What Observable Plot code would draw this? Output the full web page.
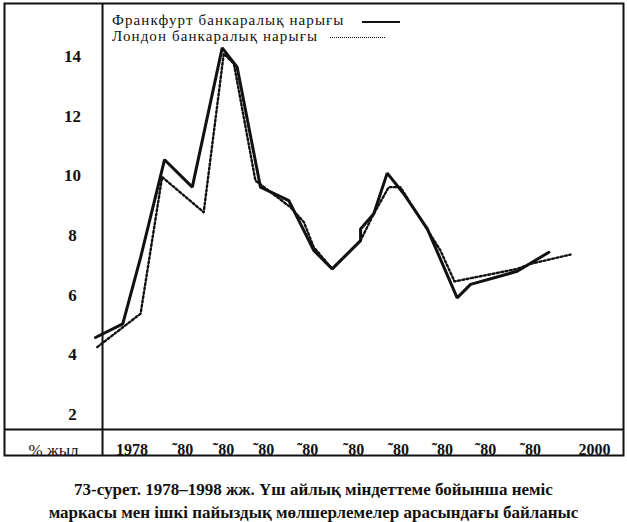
<!DOCTYPE html>
<html><head><meta charset="utf-8">
<script src="https://cdn.jsdelivr.net/npm/d3@7"></script>
<script src="https://cdn.jsdelivr.net/npm/@observablehq/plot@0.6"></script>
<style>
body{margin:0;background:#fff;width:627px;height:522px;overflow:hidden;position:relative;font-family:"Liberation Serif","DejaVu Serif",serif;color:#111;}
#chart{position:absolute;left:0;top:0;}
.lg{position:absolute;font-size:15px;line-height:15px;letter-spacing:1.1px;white-space:nowrap;}
.sw{position:absolute;height:0;}
#caption{position:absolute;left:0;top:478px;width:627px;text-align:center;font-weight:bold;font-size:17px;line-height:23px;}
</style></head><body>
<div id="chart"></div>
<div class="lg" id="lg1" style="left:112px;top:13px;"></div>
<div class="sw" style="left:362px;top:21px;width:38px;border-top:2px solid #111;"></div>
<div class="lg" id="lg2" style="left:112px;top:29px;"></div>
<div class="sw" style="left:330px;top:37px;width:55px;border-top:1.5px dotted #111;"></div>
<div id="caption"></div>
<script>
// ---- data ----
const frankfurtYears = [1976.34, 1977.58, 1978.39, 1979.48, 1980.74, 1982.10, 1982.78, 1983.84, 1985.13, 1986.26, 1987.10, 1988.39, 1988.39, 1988.99, 1989.60, 1990.35, 1991.42, 1992.78, 1993.39, 1995.51, 1996.95];
const frankfurtRates = [4.58, 5.04, 7.26, 10.54, 9.62, 14.29, 13.64, 9.62, 9.17, 7.50, 6.88, 7.83, 8.22, 8.73, 10.09, 9.40, 8.23, 5.91, 6.36, 6.80, 7.44];
const londonYears = [1976.42, 1978.39, 1979.37, 1981.26, 1982.17, 1982.63, 1983.61, 1985.20, 1985.81, 1986.26, 1987.10, 1988.39, 1988.99, 1989.67, 1990.20, 1991.42, 1992.02, 1992.66, 1995.51, 1996.11, 1997.93];
const londonRates = [4.26, 5.38, 9.96, 8.78, 14.09, 13.76, 9.84, 8.95, 8.45, 7.61, 6.88, 7.83, 8.73, 9.62, 9.62, 8.20, 7.50, 6.46, 6.88, 7.05, 7.36];
const yTicks = [2, 4, 6, 8, 10, 12, 14];
const xTickYears = [1978, 1980.3, 1982.16, 1983.98, 1985.98, 1988.07, 1990.11, 1992.11, 1994.07, 1996.11, 1999.02];
const xTickLabels = ["1978", "˜80", "˜80", "˜80", "˜80", "˜80", "˜80", "˜80", "˜80", "˜80", "2000"];
const unitLabel = "% жыл";
const seriesNames = ["Франкфурт банкаралық нарығы", "Лондон банкаралық нарығы"];
const captionLines = ["73-сурет. 1978–1998 жж. Үш айлық міндеттеме бойынша неміс", "маркасы мен ішкі пайыздық мөлшерлемелер арасындағы байланыс"];

// ---- layout ----
const dividerYear = 1976.66;
const dividerRate = 1.5;
const ink = "#111";
const serif = "'Liberation Serif','DejaVu Serif',serif";

const frankfurt = frankfurtYears.map((x, i) => ({x, y: frankfurtRates[i]}));
const london = londonYears.map((x, i) => ({x, y: londonRates[i]}));

const chart = Plot.plot({
  width: 627, height: 462, margin: 0,
  x: {domain: [1978, 2000], range: [131.5, 131.5 + 22 * 22], axis: null},
  y: {domain: [2, 14], range: [414, 56], axis: null},
  style: {fontFamily: serif, background: "#fff", color: ink},
  marks: [
    Plot.frame({insetLeft: 4, insetRight: 4, insetTop: 3, insetBottom: 7, stroke: ink, strokeWidth: 2}),
    Plot.ruleX([dividerYear], {stroke: ink, strokeWidth: 2, insetTop: 3, insetBottom: 7}),
    Plot.ruleY([dividerRate], {stroke: ink, strokeWidth: 2, insetLeft: 4, insetRight: 4}),
    Plot.text(yTicks, {y: d => d, text: d => String(d), frameAnchor: "left", dx: 72, textAnchor: "middle", fontWeight: "bold", fontSize: 17, fill: ink}),
    Plot.text(xTickYears, {x: d => d, text: (d, i) => xTickLabels[i], frameAnchor: "top", dy: 443, textAnchor: "middle", fontWeight: "bold", fontSize: 16, fill: ink}),
    Plot.text([unitLabel], {frameAnchor: "top-left", dx: 53, dy: 443, textAnchor: "middle", fontSize: 17, fill: ink, letterSpacing: "1px"}),
    Plot.line(london, {x: "x", y: "y", stroke: ink, strokeWidth: 2.4, strokeDasharray: "2 2.4"}),
    Plot.line(frankfurt, {x: "x", y: "y", stroke: ink, strokeWidth: 3, strokeLinejoin: "miter"})
  ]
});
document.getElementById("chart").appendChild(chart);
document.getElementById("lg1").textContent = seriesNames[0];
document.getElementById("lg2").textContent = seriesNames[1];
document.getElementById("caption").innerHTML = captionLines.map(s => `<div>${s}</div>`).join("");
</script>
</body></html>
